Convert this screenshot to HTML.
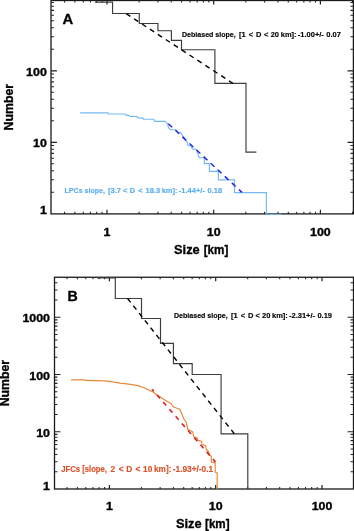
<!DOCTYPE html>
<html><head><meta charset="utf-8"><title>Size distributions</title>
<style>html,body{margin:0;padding:0;background:#fff;}body{width:354px;height:531px;overflow:hidden;font-family:"Liberation Sans",sans-serif;}svg{display:block;will-change:transform;}</style>
</head><body>
<svg width="354" height="531" viewBox="0 0 354 531"><rect x="51.0" y="0.5" width="302.4" height="213.4" fill="none" stroke="#1a1a1a" stroke-width="1.3"/>
<path d="M64.54 213.9v-2.05M64.54 0.5v2.05M74.88 213.9v-2.05M74.88 0.5v2.05M83.33 213.9v-2.05M83.33 0.5v2.05M90.47 213.9v-2.05M90.47 0.5v2.05M96.66 213.9v-2.05M96.66 0.5v2.05M102.12 213.9v-2.05M102.12 0.5v2.05M139.12 213.9v-2.05M139.12 0.5v2.05M157.91 213.9v-2.05M157.91 0.5v2.05M171.24 213.9v-2.05M171.24 0.5v2.05M181.58 213.9v-2.05M181.58 0.5v2.05M190.03 213.9v-2.05M190.03 0.5v2.05M197.17 213.9v-2.05M197.17 0.5v2.05M203.36 213.9v-2.05M203.36 0.5v2.05M208.82 213.9v-2.05M208.82 0.5v2.05M245.82 213.9v-2.05M245.82 0.5v2.05M264.61 213.9v-2.05M264.61 0.5v2.05M277.94 213.9v-2.05M277.94 0.5v2.05M288.28 213.9v-2.05M288.28 0.5v2.05M296.73 213.9v-2.05M296.73 0.5v2.05M303.87 213.9v-2.05M303.87 0.5v2.05M310.06 213.9v-2.05M310.06 0.5v2.05M315.52 213.9v-2.05M315.52 0.5v2.05M352.52 213.9v-2.05M352.52 0.5v2.05M51.0 192.28h2.95M353.4 192.28h-2.95M51.0 179.69h2.95M353.4 179.69h-2.95M51.0 170.75h2.95M353.4 170.75h-2.95M51.0 163.82h2.95M353.4 163.82h-2.95M51.0 158.16h2.95M353.4 158.16h-2.95M51.0 153.38h2.95M353.4 153.38h-2.95M51.0 149.23h2.95M353.4 149.23h-2.95M51.0 145.57h2.95M353.4 145.57h-2.95M51.0 120.78h2.95M353.4 120.78h-2.95M51.0 108.19h2.95M353.4 108.19h-2.95M51.0 99.25h2.95M353.4 99.25h-2.95M51.0 92.32h2.95M353.4 92.32h-2.95M51.0 86.66h2.95M353.4 86.66h-2.95M51.0 81.88h2.95M353.4 81.88h-2.95M51.0 77.73h2.95M353.4 77.73h-2.95M51.0 74.07h2.95M353.4 74.07h-2.95M51.0 49.28h2.95M353.4 49.28h-2.95M51.0 36.69h2.95M353.4 36.69h-2.95M51.0 27.75h2.95M353.4 27.75h-2.95M51.0 20.82h2.95M353.4 20.82h-2.95M51.0 15.16h2.95M353.4 15.16h-2.95M51.0 10.38h2.95M353.4 10.38h-2.95M51.0 6.23h2.95M353.4 6.23h-2.95M51.0 2.57h2.95M353.4 2.57h-2.95" stroke="#222" stroke-width="1.05" fill="none"/>
<path d="M107.00 213.9v-4.10M107.00 0.5v4.10M213.70 213.9v-4.10M213.70 0.5v4.10M320.40 213.9v-4.10M320.40 0.5v4.10M51.0 142.30h5.90M353.4 142.30h-5.90M51.0 70.80h5.90M353.4 70.80h-5.90" stroke="#222" stroke-width="1.2" fill="none"/>
<text transform="translate(107.00 235.6) scale(1.13 1)" font-size="11.0" text-anchor="middle" font-family="Liberation Sans, sans-serif" font-weight="bold" stroke="#000" stroke-width="0.35" stroke-linejoin="round">1</text>
<text transform="translate(213.70 235.6) scale(1.13 1)" font-size="11.0" text-anchor="middle" font-family="Liberation Sans, sans-serif" font-weight="bold" stroke="#000" stroke-width="0.35" stroke-linejoin="round">10</text>
<text transform="translate(320.40 235.6) scale(1.13 1)" font-size="11.0" text-anchor="middle" font-family="Liberation Sans, sans-serif" font-weight="bold" stroke="#000" stroke-width="0.35" stroke-linejoin="round">100</text>
<text transform="translate(46.8 214.40) scale(1.13 1)" font-size="11.0" text-anchor="end" font-family="Liberation Sans, sans-serif" font-weight="bold" stroke="#000" stroke-width="0.35" stroke-linejoin="round">1</text>
<text transform="translate(46.8 147.30) scale(1.13 1)" font-size="11.0" text-anchor="end" font-family="Liberation Sans, sans-serif" font-weight="bold" stroke="#000" stroke-width="0.35" stroke-linejoin="round">10</text>
<text transform="translate(46.8 75.80) scale(1.13 1)" font-size="11.0" text-anchor="end" font-family="Liberation Sans, sans-serif" font-weight="bold" stroke="#000" stroke-width="0.35" stroke-linejoin="round">100</text>
<text x="199.7" y="253.8" font-size="12.8" text-anchor="end" font-family="Liberation Sans, sans-serif" font-weight="bold" stroke="#000" stroke-width="0.35" stroke-linejoin="round">Size</text>
<text x="203.7" y="253.8" font-size="12.3" textLength="24.6" lengthAdjust="spacingAndGlyphs" font-family="Liberation Sans, sans-serif" font-weight="bold" stroke="#000" stroke-width="0.35" stroke-linejoin="round">[km]</text>
<text transform="translate(13.2 107.20) rotate(-90)" font-size="12.3" text-anchor="middle" font-family="Liberation Sans, sans-serif" font-weight="bold" stroke="#000" stroke-width="0.35" stroke-linejoin="round">Number</text>
<text x="62.6" y="23.6" font-size="14.8" font-family="Liberation Sans, sans-serif" font-weight="bold" stroke="#000" stroke-width="0.35" stroke-linejoin="round">A</text>
<polyline points="95.00,2.05 112.55,2.05 112.55,13.50 139.30,13.50 139.30,23.50 157.95,23.50 157.95,30.70 171.40,30.70 171.40,40.40 181.50,40.40 181.50,49.70 214.90,49.70 214.90,83.40 246.00,83.40 246.00,152.05 256.40,152.05" fill="none" stroke="#3c3c3c" stroke-width="1.15" stroke-linejoin="miter"/>
<polyline points="80.20,112.80 108.10,112.80 108.60,114.00 125.90,114.00 126.30,115.40 129.30,115.40 129.80,116.50 137.00,116.50 137.50,117.80 142.90,117.80 143.50,119.20 153.90,119.20 154.50,121.30 165.20,121.30 167.50,123.70 168.50,127.70 170.20,129.70 176.10,129.70 178.60,132.80 180.50,132.40 182.90,136.20 187.10,142.10 188.00,145.50 191.40,146.00 192.20,148.90 196.40,149.40 197.20,152.00 199.20,157.70 204.30,157.70 204.30,163.60 209.40,163.60 209.40,171.30 218.40,171.30 218.40,179.90 234.50,179.90 234.50,192.60 266.40,192.60 266.40,214.20 281.50,214.20" fill="none" stroke="#72baf5" stroke-width="1.15" stroke-linejoin="round"/>
<line x1="126.2" y1="13.7" x2="233.1" y2="83.5" stroke="#000" stroke-width="1.4" stroke-dasharray="5.0 4.45" stroke-dashoffset="0"/>
<line x1="168.3" y1="123.7" x2="242" y2="192.4" stroke="#2424e0" stroke-width="1.5" stroke-dasharray="5.2 4.45" stroke-dashoffset="0"/>
<text x="182.0" y="36.7" font-size="7.5" fill="#000" textLength="53.7" lengthAdjust="spacingAndGlyphs" font-family="Liberation Sans, sans-serif" font-weight="bold" stroke="#000" stroke-width="0.15">Debiased slope,</text>
<text x="238.9" y="36.7" font-size="7.5" fill="#000"  font-family="Liberation Sans, sans-serif" font-weight="bold" stroke="#000" stroke-width="0.15">[1</text>
<text x="248.7" y="36.7" font-size="7.5" fill="#000"  font-family="Liberation Sans, sans-serif" font-weight="bold" stroke="#000" stroke-width="0.15">&lt;</text>
<text x="256.05" y="36.7" font-size="7.5" fill="#000"  font-family="Liberation Sans, sans-serif" font-weight="bold" stroke="#000" stroke-width="0.15">D</text>
<text x="264.05" y="36.7" font-size="7.5" fill="#000"  font-family="Liberation Sans, sans-serif" font-weight="bold" stroke="#000" stroke-width="0.15">&lt;</text>
<text x="270.7" y="36.7" font-size="7.5" fill="#000"  font-family="Liberation Sans, sans-serif" font-weight="bold" stroke="#000" stroke-width="0.15">20</text>
<text x="280.75" y="36.7" font-size="7.5" fill="#000"  font-family="Liberation Sans, sans-serif" font-weight="bold" stroke="#000" stroke-width="0.15">km]:</text>
<text x="297.8" y="36.7" font-size="7.5" fill="#000"  font-family="Liberation Sans, sans-serif" font-weight="bold" stroke="#000" stroke-width="0.15">-1.00+/-</text>
<text x="326.3" y="36.7" font-size="7.5" fill="#000"  font-family="Liberation Sans, sans-serif" font-weight="bold" stroke="#000" stroke-width="0.15">0.07</text>
<text x="64.5" y="193.2" font-size="7.5" fill="#5aaef0" textLength="40.5" lengthAdjust="spacingAndGlyphs" font-family="Liberation Sans, sans-serif" font-weight="bold" stroke="#5aaef0" stroke-width="0.15">LPCs slope,</text>
<text x="108.1" y="193.2" font-size="7.5" fill="#5aaef0"  font-family="Liberation Sans, sans-serif" font-weight="bold" stroke="#5aaef0" stroke-width="0.15">[3.7</text>
<text x="123.1" y="193.2" font-size="7.5" fill="#5aaef0"  font-family="Liberation Sans, sans-serif" font-weight="bold" stroke="#5aaef0" stroke-width="0.15">&lt;</text>
<text x="129.8" y="193.2" font-size="7.5" fill="#5aaef0"  font-family="Liberation Sans, sans-serif" font-weight="bold" stroke="#5aaef0" stroke-width="0.15">D</text>
<text x="138.3" y="193.2" font-size="7.5" fill="#5aaef0"  font-family="Liberation Sans, sans-serif" font-weight="bold" stroke="#5aaef0" stroke-width="0.15">&lt;</text>
<text x="145.5" y="193.2" font-size="7.5" fill="#5aaef0"  font-family="Liberation Sans, sans-serif" font-weight="bold" stroke="#5aaef0" stroke-width="0.15">18.3</text>
<text x="161.65" y="193.2" font-size="7.5" fill="#5aaef0"  font-family="Liberation Sans, sans-serif" font-weight="bold" stroke="#5aaef0" stroke-width="0.15">km]:</text>
<text x="178.85" y="193.2" font-size="7.5" fill="#5aaef0"  font-family="Liberation Sans, sans-serif" font-weight="bold" stroke="#5aaef0" stroke-width="0.15">-1.44+/-</text>
<text x="207.5" y="193.2" font-size="7.5" fill="#5aaef0"  font-family="Liberation Sans, sans-serif" font-weight="bold" stroke="#5aaef0" stroke-width="0.15">0.18</text>
<rect x="54.5" y="277.25" width="299.0" height="211.75" fill="none" stroke="#1a1a1a" stroke-width="1.3"/>
<path d="M67.10 489.0v-2.05M67.10 277.25v2.05M77.40 489.0v-2.05M77.40 277.25v2.05M85.82 489.0v-2.05M85.82 277.25v2.05M92.93 489.0v-2.05M92.93 277.25v2.05M99.10 489.0v-2.05M99.10 277.25v2.05M104.54 489.0v-2.05M104.54 277.25v2.05M141.40 489.0v-2.05M141.40 277.25v2.05M160.12 489.0v-2.05M160.12 277.25v2.05M173.40 489.0v-2.05M173.40 277.25v2.05M183.70 489.0v-2.05M183.70 277.25v2.05M192.12 489.0v-2.05M192.12 277.25v2.05M199.23 489.0v-2.05M199.23 277.25v2.05M205.40 489.0v-2.05M205.40 277.25v2.05M210.84 489.0v-2.05M210.84 277.25v2.05M247.70 489.0v-2.05M247.70 277.25v2.05M266.42 489.0v-2.05M266.42 277.25v2.05M279.70 489.0v-2.05M279.70 277.25v2.05M290.00 489.0v-2.05M290.00 277.25v2.05M298.42 489.0v-2.05M298.42 277.25v2.05M305.53 489.0v-2.05M305.53 277.25v2.05M311.70 489.0v-2.05M311.70 277.25v2.05M317.14 489.0v-2.05M317.14 277.25v2.05M54.5 471.77h2.95M353.5 471.77h-2.95M54.5 461.68h2.95M353.5 461.68h-2.95M54.5 454.53h2.95M353.5 454.53h-2.95M54.5 448.98h2.95M353.5 448.98h-2.95M54.5 444.45h2.95M353.5 444.45h-2.95M54.5 440.62h2.95M353.5 440.62h-2.95M54.5 437.30h2.95M353.5 437.30h-2.95M54.5 434.37h2.95M353.5 434.37h-2.95M54.5 414.52h2.95M353.5 414.52h-2.95M54.5 404.43h2.95M353.5 404.43h-2.95M54.5 397.28h2.95M353.5 397.28h-2.95M54.5 391.73h2.95M353.5 391.73h-2.95M54.5 387.20h2.95M353.5 387.20h-2.95M54.5 383.37h2.95M353.5 383.37h-2.95M54.5 380.05h2.95M353.5 380.05h-2.95M54.5 377.12h2.95M353.5 377.12h-2.95M54.5 357.27h2.95M353.5 357.27h-2.95M54.5 347.18h2.95M353.5 347.18h-2.95M54.5 340.03h2.95M353.5 340.03h-2.95M54.5 334.48h2.95M353.5 334.48h-2.95M54.5 329.95h2.95M353.5 329.95h-2.95M54.5 326.12h2.95M353.5 326.12h-2.95M54.5 322.80h2.95M353.5 322.80h-2.95M54.5 319.87h2.95M353.5 319.87h-2.95M54.5 300.02h2.95M353.5 300.02h-2.95M54.5 289.93h2.95M353.5 289.93h-2.95M54.5 282.78h2.95M353.5 282.78h-2.95" stroke="#222" stroke-width="1.05" fill="none"/>
<path d="M109.40 489.0v-4.10M109.40 277.25v4.10M215.70 489.0v-4.10M215.70 277.25v4.10M322.00 489.0v-4.10M322.00 277.25v4.10M54.5 431.75h5.90M353.5 431.75h-5.90M54.5 374.50h5.90M353.5 374.50h-5.90M54.5 317.25h5.90M353.5 317.25h-5.90" stroke="#222" stroke-width="1.2" fill="none"/>
<text transform="translate(109.40 510.4) scale(1.13 1)" font-size="11.0" text-anchor="middle" font-family="Liberation Sans, sans-serif" font-weight="bold" stroke="#000" stroke-width="0.35" stroke-linejoin="round">1</text>
<text transform="translate(215.70 510.4) scale(1.13 1)" font-size="11.0" text-anchor="middle" font-family="Liberation Sans, sans-serif" font-weight="bold" stroke="#000" stroke-width="0.35" stroke-linejoin="round">10</text>
<text transform="translate(322.00 510.4) scale(1.13 1)" font-size="11.0" text-anchor="middle" font-family="Liberation Sans, sans-serif" font-weight="bold" stroke="#000" stroke-width="0.35" stroke-linejoin="round">100</text>
<text transform="translate(50.0 489.60) scale(1.13 1)" font-size="11.0" text-anchor="end" font-family="Liberation Sans, sans-serif" font-weight="bold" stroke="#000" stroke-width="0.35" stroke-linejoin="round">1</text>
<text transform="translate(50.0 436.95) scale(1.13 1)" font-size="11.0" text-anchor="end" font-family="Liberation Sans, sans-serif" font-weight="bold" stroke="#000" stroke-width="0.35" stroke-linejoin="round">10</text>
<text transform="translate(50.0 379.70) scale(1.13 1)" font-size="11.0" text-anchor="end" font-family="Liberation Sans, sans-serif" font-weight="bold" stroke="#000" stroke-width="0.35" stroke-linejoin="round">100</text>
<text transform="translate(50.0 322.45) scale(1.13 1)" font-size="11.0" text-anchor="end" font-family="Liberation Sans, sans-serif" font-weight="bold" stroke="#000" stroke-width="0.35" stroke-linejoin="round">1000</text>
<text x="201.5" y="528.2" font-size="12.8" text-anchor="end" font-family="Liberation Sans, sans-serif" font-weight="bold" stroke="#000" stroke-width="0.35" stroke-linejoin="round">Size</text>
<text x="205.0" y="528.2" font-size="12.3" textLength="24.6" lengthAdjust="spacingAndGlyphs" font-family="Liberation Sans, sans-serif" font-weight="bold" stroke="#000" stroke-width="0.35" stroke-linejoin="round">[km]</text>
<text transform="translate(9.3 383.12) rotate(-90)" font-size="12.3" text-anchor="middle" font-family="Liberation Sans, sans-serif" font-weight="bold" stroke="#000" stroke-width="0.35" stroke-linejoin="round">Number</text>
<text x="67.5" y="301" font-size="14.2" font-family="Liberation Sans, sans-serif" font-weight="bold" stroke="#000" stroke-width="0.35" stroke-linejoin="round">B</text>
<polyline points="97.00,277.90 115.30,277.90 115.30,298.50 141.50,298.50 141.50,318.50 160.50,318.50 160.50,343.30 173.40,343.30 173.40,363.60 192.20,363.60 192.20,374.50 221.10,374.50 221.10,433.90 247.80,433.90 247.80,489.00" fill="none" stroke="#3c3c3c" stroke-width="1.15" stroke-linejoin="miter"/>
<polyline points="71.00,379.80 84.50,379.85 85.40,380.40 104.00,380.85 110.80,381.60 120.00,383.10 126.90,383.90 138.00,385.60 143.90,387.80 152.40,391.60 158.60,396.10 165.30,400.30 171.30,403.70 173.00,406.80 179.70,409.20 181.40,413.00 184.30,419.80 186.10,421.80 187.80,429.40 192.90,432.00 193.70,436.70 197.10,437.90 198.00,440.40 201.40,441.30 202.20,444.70 205.60,445.50 206.40,449.70 208.70,451.80 209.60,455.20 211.30,456.00 211.30,461.90 215.20,462.80 215.20,472.10 217.20,473.00 217.20,489.20" fill="none" stroke="#e58a3a" stroke-width="1.2" stroke-linejoin="round"/>
<line x1="127.6" y1="298.5" x2="234.5" y2="434" stroke="#000" stroke-width="1.4" stroke-dasharray="4.9 4.4" stroke-dashoffset="0"/>
<line x1="152.1" y1="389.3" x2="215.5" y2="462" stroke="#d8202a" stroke-width="1.6" stroke-dasharray="4.6 4.85" stroke-dashoffset="2"/>
<text x="174.0" y="317.5" font-size="7.5" fill="#000" textLength="53.7" lengthAdjust="spacingAndGlyphs" font-family="Liberation Sans, sans-serif" font-weight="bold" stroke="#000" stroke-width="0.15">Debiased slope,</text>
<text x="230.9" y="317.5" font-size="7.5" fill="#000"  font-family="Liberation Sans, sans-serif" font-weight="bold" stroke="#000" stroke-width="0.15">[1</text>
<text x="240.7" y="317.5" font-size="7.5" fill="#000"  font-family="Liberation Sans, sans-serif" font-weight="bold" stroke="#000" stroke-width="0.15">&lt;</text>
<text x="248.0" y="317.5" font-size="7.5" fill="#000"  font-family="Liberation Sans, sans-serif" font-weight="bold" stroke="#000" stroke-width="0.15">D</text>
<text x="255.5" y="317.5" font-size="7.5" fill="#000"  font-family="Liberation Sans, sans-serif" font-weight="bold" stroke="#000" stroke-width="0.15">&lt;</text>
<text x="262.0" y="317.5" font-size="7.5" fill="#000"  font-family="Liberation Sans, sans-serif" font-weight="bold" stroke="#000" stroke-width="0.15">20</text>
<text x="272.0" y="317.5" font-size="7.5" fill="#000"  font-family="Liberation Sans, sans-serif" font-weight="bold" stroke="#000" stroke-width="0.15">km]:</text>
<text x="289.0" y="317.5" font-size="7.5" fill="#000"  font-family="Liberation Sans, sans-serif" font-weight="bold" stroke="#000" stroke-width="0.15">-2.31+/-</text>
<text x="317.45" y="317.5" font-size="7.5" fill="#000"  font-family="Liberation Sans, sans-serif" font-weight="bold" stroke="#000" stroke-width="0.15">0.19</text>
<text x="61.2" y="471.6" font-size="8.3" fill="#d9532b" textLength="45.8" lengthAdjust="spacingAndGlyphs" font-family="Liberation Sans, sans-serif" font-weight="bold" stroke="#d9532b" stroke-width="0.15">JFCs [slope,</text>
<text x="110.5" y="471.6" font-size="8.3" fill="#d9532b"  font-family="Liberation Sans, sans-serif" font-weight="bold" stroke="#d9532b" stroke-width="0.15">2</text>
<text x="118.7" y="471.6" font-size="8.3" fill="#d9532b"  font-family="Liberation Sans, sans-serif" font-weight="bold" stroke="#d9532b" stroke-width="0.15">&lt;</text>
<text x="126.2" y="471.6" font-size="8.3" fill="#d9532b"  font-family="Liberation Sans, sans-serif" font-weight="bold" stroke="#d9532b" stroke-width="0.15">D</text>
<text x="135.5" y="471.6" font-size="8.3" fill="#d9532b"  font-family="Liberation Sans, sans-serif" font-weight="bold" stroke="#d9532b" stroke-width="0.15">&lt;</text>
<text x="143.05" y="471.6" font-size="8.3" fill="#d9532b"  font-family="Liberation Sans, sans-serif" font-weight="bold" stroke="#d9532b" stroke-width="0.15">10</text>
<text x="154.0" y="471.6" font-size="8.3" fill="#d9532b"  font-family="Liberation Sans, sans-serif" font-weight="bold" stroke="#d9532b" stroke-width="0.15">km]:</text>
<text x="172.75" y="471.6" font-size="8.3" fill="#d9532b"  font-family="Liberation Sans, sans-serif" font-weight="bold" stroke="#d9532b" stroke-width="0.15">-1.93+/-0.1</text></svg>
</body></html>
